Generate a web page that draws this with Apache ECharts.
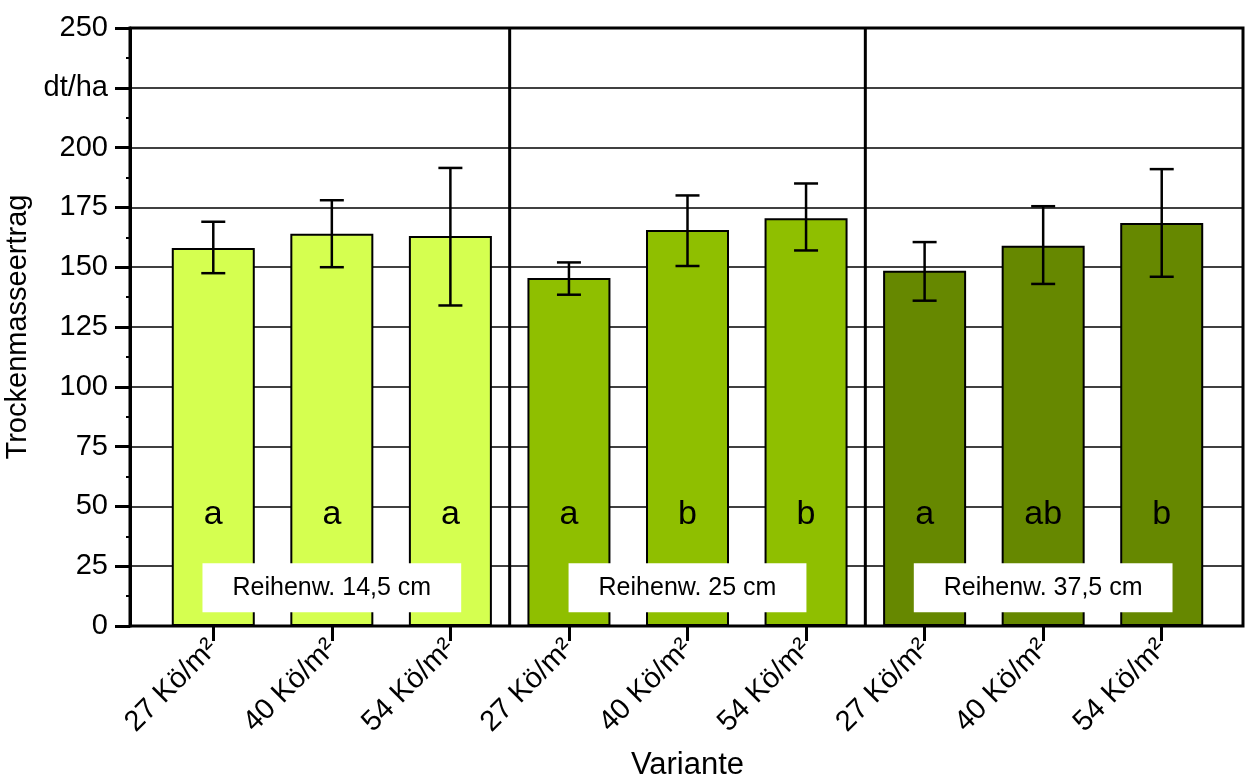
<!DOCTYPE html>
<html>
<head>
<meta charset="utf-8">
<script src="https://cdn.jsdelivr.net/npm/echarts@6/dist/echarts.min.js"></script>
<style>
  html, body { margin: 0; padding: 0; background: #fff; }
  #main { width: 1249px; height: 780px; }
</style>
</head>
<body>
<div id="main"></div>
<script>
// Daten
var categories = ['27 Kö/m²', '40 Kö/m²', '54 Kö/m²', '27 Kö/m²', '40 Kö/m²', '54 Kö/m²', '27 Kö/m²', '40 Kö/m²', '54 Kö/m²'];
var ertrag = [158, 164, 163, 145.5, 165.5, 170.5, 148.5, 159, 168.5];
var fehlerOben = [169, 178, 191.5, 152, 180, 185, 160.5, 175.5, 191];
var fehlerUnten = [147.5, 150, 134, 138.5, 150.5, 157, 136, 143, 146];
var buchstaben = ['a', 'a', 'a', 'a', 'b', 'b', 'a', 'ab', 'b'];
var gruppe = [0, 0, 0, 1, 1, 1, 2, 2, 2];
var gruppenFarben = ['#d5ff50', '#8fbf00', '#668800'];
var boxText = ['Reihenw. 14,5 cm', 'Reihenw. 25 cm', 'Reihenw. 37,5 cm'];
var boxKategorie = [1, 4, 7];
var boxHoehe = 16;
// Trennlinien zwischen den Gruppen (zwischen Kategorie a und b)
var trenner = [[2, 3], [5, 6]];
var yTicks = [0, 25, 50, 75, 100, 125, 150, 175, 200, 225, 250];

var font = "'Liberation Sans', Arial, sans-serif";

var barData = [];
for (var i = 0; i < ertrag.length; i++) {
  barData.push({
    value: ertrag[i],
    itemStyle: { color: gruppenFarben[gruppe[i]] }
  });
}
var errData = [];
for (var j = 0; j < ertrag.length; j++) {
  errData.push([j, fehlerOben[j], fehlerUnten[j]]);
}
var boxData = [];
for (var k = 0; k < boxText.length; k++) {
  boxData.push([boxKategorie[k], boxHoehe]);
}

var chart = echarts.init(document.getElementById('main'), null, { renderer: 'canvas' });

var option = {
  backgroundColor: '#ffffff',
  animation: false,
  textStyle: { fontFamily: font },
  grid: [
    // breites Raster: Rahmen, y-Achse, Gitterlinien
    { left: 130, right: 6, top: 28, bottom: 154, show: true, borderColor: '#000', borderWidth: 3, outerBoundsMode: 'none', containLabel: false },
    // schmales Raster: Balken
    { left: 154, right: 28, top: 28, bottom: 154, outerBoundsMode: 'none', containLabel: false }
  ],
  xAxis: [
    {
      gridIndex: 0, type: 'value', min: 0, max: 1,
      axisLine: { show: false }, axisTick: { show: false },
      axisLabel: { show: false }, splitLine: { show: false }
    },
    {
      gridIndex: 1, type: 'category', data: categories,
      axisLine: { show: false },
      axisTick: { show: true, alignWithLabel: true, length: 15, lineStyle: { color: '#000', width: 3 } },
      axisLabel: { rotate: 45, fontSize: 29, color: '#000', margin: 18, interval: 0, fontFamily: font },
      splitLine: { show: false },
      name: 'Variante', nameLocation: 'middle', nameGap: 124,
      nameTextStyle: { fontSize: 31, color: '#000', fontFamily: font }
    }
  ],
  yAxis: [
    {
      gridIndex: 0, type: 'value', min: 0, max: 250, interval: 25,
      axisLine: { show: true, lineStyle: { color: '#000', width: 3 } },
      axisTick: { show: true, length: 15, lineStyle: { color: '#000', width: 3 } },
      minorTick: { show: true, splitNumber: 2, length: 4, lineStyle: { color: '#000', width: 2 } },
      axisLabel: {
        fontSize: 29, color: '#000', margin: 22, fontFamily: font,
        formatter: function (v) { return v === yTicks[9] ? 'dt/ha' : String(v); }
      },
      splitLine: { show: true, lineStyle: { color: '#000', width: 1.5 } },
      name: 'Trockenmasseertrag', nameLocation: 'middle', nameGap: 82,
      nameTextStyle: { fontSize: 29, color: '#000', fontFamily: font }
    },
    {
      gridIndex: 1, type: 'value', min: 0, max: 250, interval: 25,
      axisLine: { show: false }, axisTick: { show: false },
      axisLabel: { show: false }, splitLine: { show: false }
    }
  ],
  series: [
    {
      type: 'custom', xAxisIndex: 1, yAxisIndex: 1,
      data: trenner,
      renderItem: function (params, api) {
        var a = api.coord([api.value(0), 0]);
        var b = api.coord([api.value(1), 250]);
        var x = (a[0] + b[0]) / 2;
        return {
          type: 'line',
          shape: { x1: x, y1: a[1], x2: x, y2: b[1] },
          style: { stroke: '#000', lineWidth: 3 }
        };
      },
      z: 2
    },
    {
      type: 'bar', xAxisIndex: 1, yAxisIndex: 1,
      data: barData, barWidth: 83,
      itemStyle: { borderColor: '#000', borderWidth: 2 },
      label: {
        show: true, position: 'insideBottom', distance: 94,
        fontSize: 34, color: '#000', fontFamily: font,
        formatter: function (p) { return buchstaben[p.dataIndex]; }
      },
      z: 3
    },
    {
      type: 'custom', xAxisIndex: 1, yAxisIndex: 1,
      data: errData,
      renderItem: function (params, api) {
        var hi = api.coord([api.value(0), api.value(1)]);
        var lo = api.coord([api.value(0), api.value(2)]);
        var hw = 12;
        var st = { stroke: '#000', lineWidth: 2.5 };
        return {
          type: 'group',
          children: [
            { type: 'line', shape: { x1: hi[0], y1: hi[1], x2: lo[0], y2: lo[1] }, style: st },
            { type: 'line', shape: { x1: hi[0] - hw, y1: hi[1], x2: hi[0] + hw, y2: hi[1] }, style: st },
            { type: 'line', shape: { x1: lo[0] - hw, y1: lo[1], x2: lo[0] + hw, y2: lo[1] }, style: st }
          ]
        };
      },
      z: 4
    },
    {
      type: 'scatter', xAxisIndex: 1, yAxisIndex: 1,
      data: boxData, symbolSize: 2,
      itemStyle: { color: 'rgba(255,255,255,0)', opacity: 1 },
      label: {
        show: true, position: 'inside', opacity: 1,
        fontSize: 25, color: '#000', fontFamily: font,
        backgroundColor: '#ffffff', padding: [13, 30, 11, 30],
        formatter: function (p) { return boxText[p.dataIndex]; }
      },
      z: 5
    }
  ]
};

chart.setOption(option);
</script>
</body>
</html>
